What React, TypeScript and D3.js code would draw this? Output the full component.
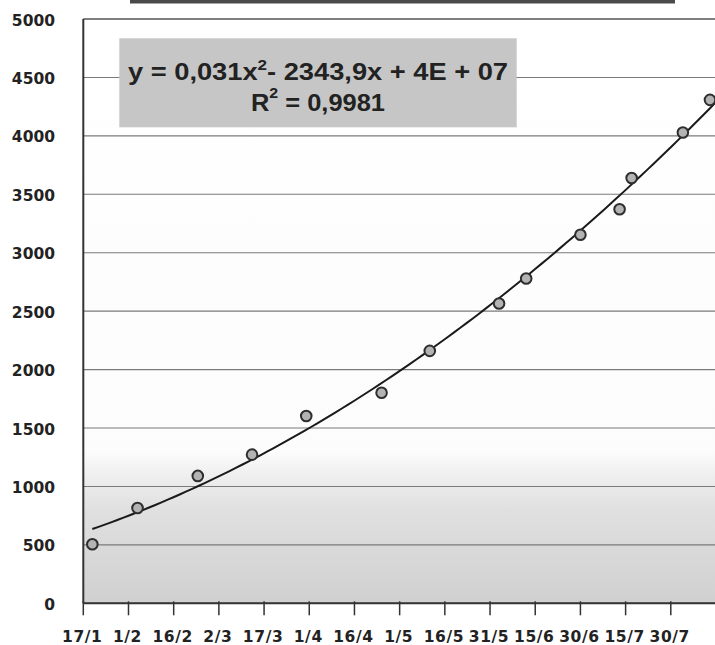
import React from "react";
import * as d3 from "d3";

// ---- data ----
const pointDates: string[] = [
  "2008-01-20", "2008-02-04", "2008-02-24", "2008-03-13", "2008-03-31",
  "2008-04-25", "2008-05-11", "2008-06-03", "2008-06-12", "2008-06-30",
  "2008-07-13", "2008-07-17", "2008-08-03", "2008-08-12",
];
const pointValues: number[] = [
  505, 815, 1090, 1272, 1603, 1802, 2160, 2566, 2779, 3154, 3372, 3640, 4029, 4308,
];
const xTickDates: string[] = [
  "2008-01-17", "2008-02-01", "2008-02-16", "2008-03-02", "2008-03-17",
  "2008-04-01", "2008-04-16", "2008-05-01", "2008-05-16", "2008-05-31",
  "2008-06-15", "2008-06-30", "2008-07-15", "2008-07-30",
];
const xTickLabels: string[] = [
  "17/1", "1/2", "16/2", "2/3", "17/3", "1/4", "16/4", "1/5", "16/5", "31/5",
  "15/6", "30/6", "15/7", "30/7",
];
const yTicks: number[] = [0, 500, 1000, 1500, 2000, 2500, 3000, 3500, 4000, 4500, 5000];
const xDomain: string[] = ["2008-01-17", "2008-08-14"];
const eqLine1Parts: string[] = ["y = 0,031x", "2", "- 2343,9x + 4E + 07"];
const eqLine2Parts: string[] = ["R", "2", " = 0,9981"];

const W = 715;
const H = 645;
const left = 83.3;
const right = 716;
const top = 19;
const bottom = 603.3;

const parse = (s: string) => new Date(s + "T00:00:00Z");
const DAY = 86400000;

function quadFit(ts: number[], ys: number[]): [number, number, number] {
  // least-squares y = a + b t + c t^2
  let s0 = 0, s1 = 0, s2 = 0, s3 = 0, s4 = 0, r0 = 0, r1 = 0, r2 = 0;
  ts.forEach((t, i) => {
    const y = ys[i];
    s0 += 1; s1 += t; s2 += t * t; s3 += t * t * t; s4 += t * t * t * t;
    r0 += y; r1 += y * t; r2 += y * t * t;
  });
  const M = [
    [s0, s1, s2, r0],
    [s1, s2, s3, r1],
    [s2, s3, s4, r2],
  ];
  for (let i = 0; i < 3; i++) {
    for (let k = i + 1; k < 3; k++) {
      const f = M[k][i] / M[i][i];
      for (let j = i; j < 4; j++) M[k][j] -= f * M[i][j];
    }
  }
  const sol = [0, 0, 0];
  for (let i = 2; i >= 0; i--) {
    let s = M[i][3];
    for (let j = i + 1; j < 3; j++) s -= M[i][j] * sol[j];
    sol[i] = s / M[i][i];
  }
  return [sol[0], sol[1], sol[2]];
}

export default function App() {
  React.useEffect(() => {
    document.body.style.margin = "0";
  }, []);

  const x = d3.scaleUtc().domain(xDomain.map(parse)).range([left, right]);
  const y = d3.scaleLinear().domain([0, 5000]).range([bottom, top]);

  const start = parse(xDomain[0]).getTime();
  const pts = pointDates.map((d, i) => ({ date: parse(d), v: pointValues[i] }));
  const ts = pts.map((p) => (p.date.getTime() - start) / DAY);
  const [a, b, c] = quadFit(ts, pointValues);
  const t0 = ts[0];
  const t1 = (parse(xDomain[1]).getTime() - start) / DAY;
  const trend = d3.range(0, 101).map((i) => {
    const t = t0 + ((t1 - t0) * i) / 100;
    return { date: new Date(start + t * DAY), v: a + b * t + c * t * t };
  });
  const line = d3
    .line<{ date: Date; v: number }>()
    .x((d) => x(d.date))
    .y((d) => y(d.v))
    .curve(d3.curveLinear);

  const boxX = 119.3, boxY = 38.3, boxW = 397.4, boxH = 89;
  const boxCx = boxX + boxW / 2;

  return (
    <svg
      width={W}
      height={H}
      style={{ position: "absolute", left: 0, top: 0, background: "#fff" }}
    >
      <defs>
        <linearGradient id="bg" gradientUnits="userSpaceOnUse" x1={0} y1={top} x2={0} y2={bottom}>
          <stop offset="0" stopColor="#ffffff" />
          <stop offset="0.74" stopColor="#fcfcfc" />
          <stop offset="0.79" stopColor="#ececec" />
          <stop offset="0.84" stopColor="#e0e0e0" />
          <stop offset="0.92" stopColor="#d8d8d8" />
          <stop offset="1" stopColor="#d0d0d0" />
        </linearGradient>
      </defs>

      {/* cut-off title box at top */}
      <rect x={130} y={0} width={545} height={3.5} fill="#4a4a4a" />

      {/* plot area */}
      <rect x={left} y={top} width={right - left} height={bottom - top} fill="url(#bg)" />

      {/* gridlines */}
      {yTicks.map((t) => (
        <line
          key={"g" + t}
          x1={left}
          x2={right}
          y1={y(t)}
          y2={y(t)}
          stroke={t === 5000 ? "#555" : "#7a7a7a"}
          strokeWidth={t === 5000 ? 1.6 : 1.1}
        />
      ))}

      {/* y labels */}
      {yTicks.map((t) => (
        <text
          key={"yl" + t}
          x={55}
          y={y(t) + 1}
          dy="0.36em"
          textAnchor="end"
          fontFamily="DejaVu Sans, Verdana, sans-serif"
          fontWeight="bold"
          fontSize={15.5}
          fill="#222"
        >
          {t}
        </text>
      ))}

      {/* axes */}
      <line x1={left} x2={left} y1={top} y2={bottom} stroke="#333" strokeWidth={2} />
      <line x1={left} x2={right} y1={bottom} y2={bottom} stroke="#333" strokeWidth={2} />
      {xTickDates.map((d) => (
        <line
          key={"xt" + d}
          x1={x(parse(d))}
          x2={x(parse(d))}
          y1={bottom - 2}
          y2={bottom + 12}
          stroke="#333"
          strokeWidth={1.5}
        />
      ))}
      {xTickDates.map((d, i) => (
        <text
          key={"xl" + d}
          x={x(parse(d)) - 1}
          y={641.5}
          textAnchor="middle"
          fontFamily="DejaVu Sans, Verdana, sans-serif"
          fontWeight="bold"
          fontSize={15.5}
          letterSpacing={0.6}
          fill="#222"
        >
          {xTickLabels[i]}
        </text>
      ))}

      {/* trendline */}
      <path d={line(trend) || ""} fill="none" stroke="#1a1a1a" strokeWidth={2} />

      {/* points */}
      {pts.map((p, i) => (
        <circle
          key={"p" + i}
          cx={x(p.date)}
          cy={y(p.v)}
          r={5.3}
          fill="#b3b3b3"
          stroke="#2e2e2e"
          strokeWidth={2}
        />
      ))}

      {/* equation box */}
      <rect x={boxX} y={boxY} width={boxW} height={boxH} fill="#c6c6c6" />
      <text
        x={boxCx}
        y={80}
        textAnchor="middle"
        fontFamily="Liberation Sans, Arial, sans-serif"
        fontWeight="bold"
        fontSize={24}
        fill="#222"
        textLength={380}
        lengthAdjust="spacingAndGlyphs"
      >
        {eqLine1Parts[0]}
        <tspan fontSize={15} dy={-10}>{eqLine1Parts[1]}</tspan>
        <tspan dy={10}>{eqLine1Parts[2]}</tspan>
      </text>
      <text
        x={boxCx}
        y={111}
        textAnchor="middle"
        fontFamily="Liberation Sans, Arial, sans-serif"
        fontWeight="bold"
        fontSize={24}
        fill="#222"
        textLength={134}
        lengthAdjust="spacingAndGlyphs"
      >
        {eqLine2Parts[0]}
        <tspan fontSize={15} dy={-13}>{eqLine2Parts[1]}</tspan>
        <tspan dy={13}>{eqLine2Parts[2]}</tspan>
      </text>
    </svg>
  );
}
